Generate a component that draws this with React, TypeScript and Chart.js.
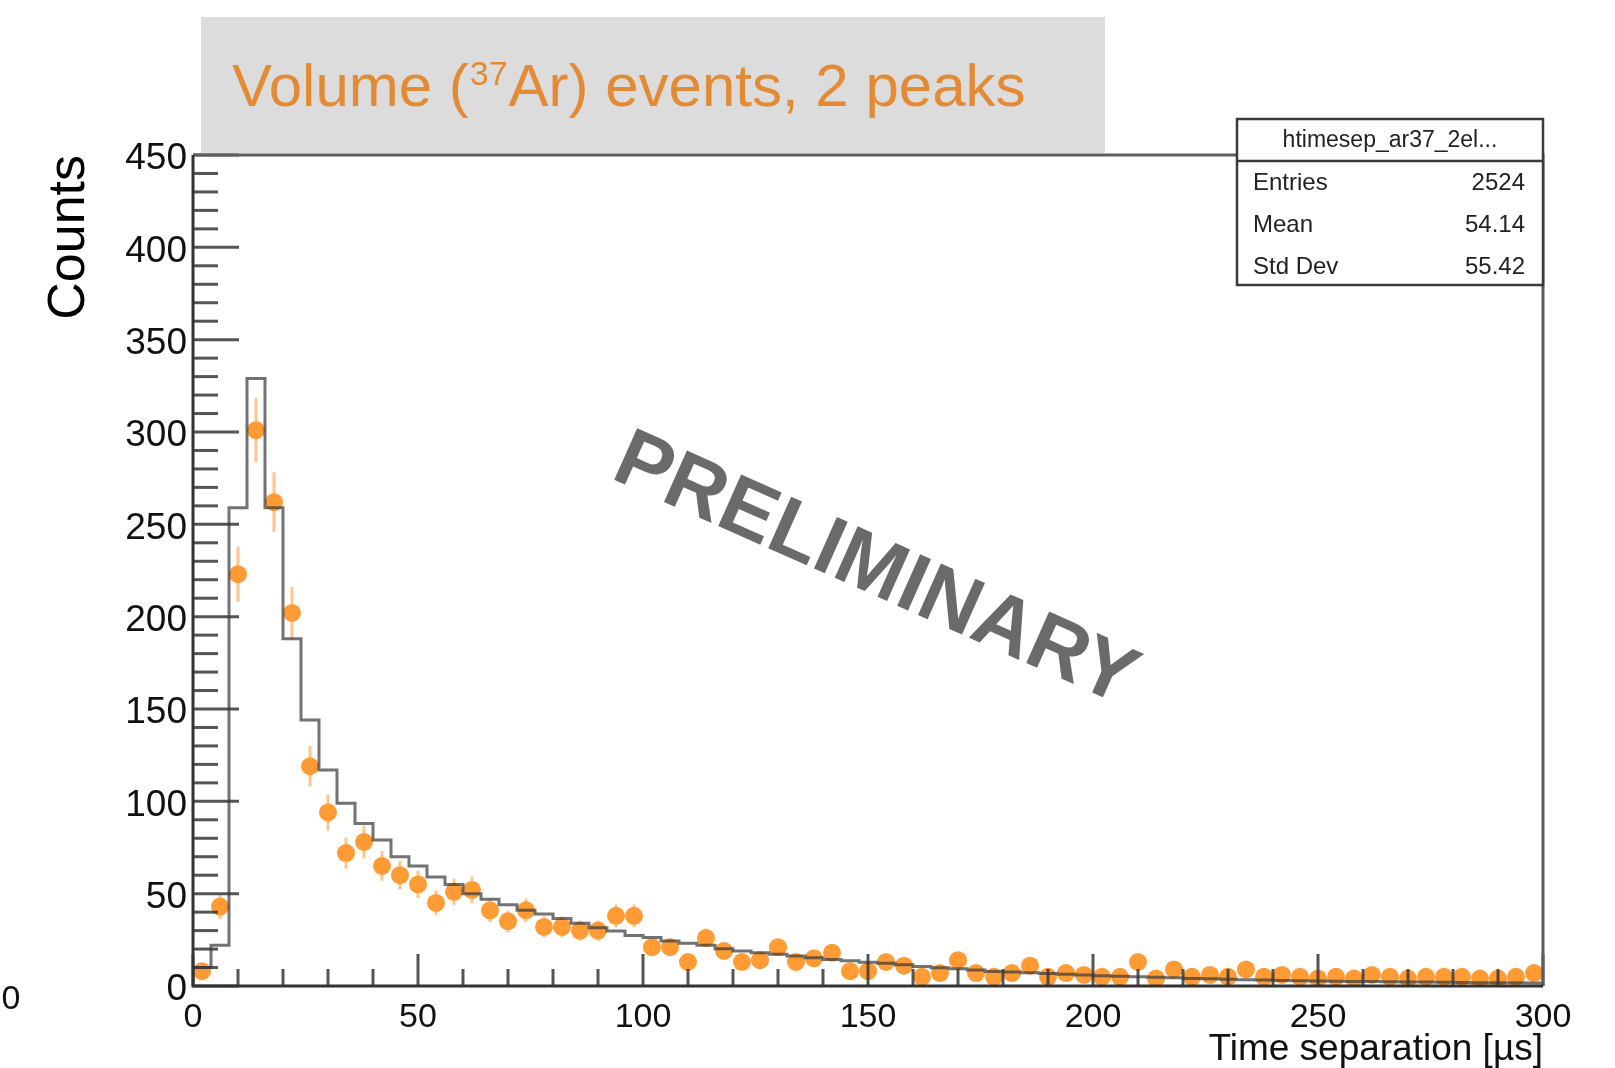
import React, { useEffect, useRef } from "react";
import { Chart, registerables } from "chart.js";

Chart.register(...registerables);

// ---------------- data ----------------
const X_MIN = 0;
const X_MAX = 300;
const BIN_WIDTH = 4;
const Y_MIN = 0;
const Y_MAX = 450;
const X_STEP = 50;
const Y_STEP = 50;

// measured counts (orange points), one per 4 µs bin, 0..300 µs
const dataCounts = [
  8, 43, 223, 301, 262, 202, 119, 94, 72, 78,
  65, 60, 55, 45, 51, 52, 41, 35, 41, 32,
  32, 30, 30, 38, 38, 21, 21, 13, 26, 19,
  13, 14, 21, 13, 15, 18, 8, 8, 13, 11,
  5, 7, 14, 7, 5, 7, 11, 5, 7, 6,
  5, 5, 13, 4, 9, 5, 6, 5, 9, 5,
  6, 5, 4, 5, 4, 6, 5, 4, 5, 5,
  5, 4, 4, 5, 7,
];

// reference histogram (grey step line), one per 4 µs bin
const refCounts = [
  10, 22, 259, 329, 259, 188, 144, 117, 99, 88,
  79, 70, 65, 59, 55, 50, 47, 44, 41, 39,
  36.5, 34, 31.6, 29.8, 27.4, 26.2, 24.4, 23.1, 22, 20.2,
  19, 18, 17.2, 16.2, 15.3, 14.4, 13.7, 12.8, 12.3, 11.5,
  10.5, 9.9, 9.3, 8.7, 7.9, 7.6, 7.2, 6.8, 6.3, 6.0,
  5.6, 5.3, 5.0, 4.7, 4.4, 4.1, 3.9, 3.6, 3.4, 3.2,
  3.0, 2.9, 2.7, 2.6, 2.5, 2.4, 2.3, 2.2, 2.1, 2.0,
  1.9, 1.8, 1.7, 1.7, 1.6,
];

const titleBefore = "Volume (";
const titleSup = "37";
const titleAfter = "Ar) events, 2 peaks";
const xAxisTitle = "Time separation [µs]";
const yAxisTitle = "Counts";
const watermark = "PRELIMINARY";
const statsName = "htimesep_ar37_2el...";
const statsLabels = ["Entries", "Mean", "Std Dev"];
const statsValues = ["2524", "54.14", "55.42"];

// ---------------- styling ----------------
const FONT = "'Liberation Sans', Arial, Helvetica, sans-serif";
const ORANGE = "#FF9B35";
const ERR_COLOR = "rgba(255,150,45,0.55)";
const HIST_COLOR = "rgba(60,60,60,0.72)";
const TITLE_COLOR = "#E38B34";
const W = 1615;
const H = 1068;

const rootPlugin = {
  id: "rootStyle",
  beforeDraw(chart: any) {
    const ctx = chart.ctx;
    ctx.save();
    ctx.fillStyle = "#ffffff";
    ctx.fillRect(0, 0, chart.width, chart.height);
    // title pad
    ctx.fillStyle = "#dcdcdc";
    ctx.fillRect(201, 17, 904, 136);
    ctx.fillStyle = TITLE_COLOR;
    ctx.textBaseline = "alphabetic";
    ctx.textAlign = "left";
    let x = 232;
    const base = 106;
    ctx.font = `60px ${FONT}`;
    ctx.fillText(titleBefore, x, base);
    x += ctx.measureText(titleBefore).width;
    ctx.font = `34px ${FONT}`;
    ctx.fillText(titleSup, x + 1, base - 21);
    x += ctx.measureText(titleSup).width + 2;
    ctx.font = `60px ${FONT}`;
    ctx.fillText(titleAfter, x, base);
    ctx.restore();
  },
  beforeDatasetsDraw(chart: any) {
    const ctx = chart.ctx;
    const xs = chart.scales.x;
    const ys = chart.scales.y;
    ctx.save();
    ctx.strokeStyle = ERR_COLOR;
    ctx.lineWidth = 3;
    dataCounts.forEach((n, i) => {
      const xc = X_MIN + (i + 0.5) * BIN_WIDTH;
      const e = Math.sqrt(n);
      const px = xs.getPixelForValue(xc);
      ctx.beginPath();
      ctx.moveTo(px, ys.getPixelForValue(Math.max(0, n - e)));
      ctx.lineTo(px, ys.getPixelForValue(n + e));
      ctx.stroke();
    });
    ctx.restore();
  },
  afterDatasetsDraw(chart: any) {
    const ctx = chart.ctx;
    const xs = chart.scales.x;
    const ys = chart.scales.y;
    const a = chart.chartArea;
    ctx.save();
    // ticks (inside frame)
    ctx.strokeStyle = "rgba(55,55,55,0.85)";
    ctx.lineWidth = 3;
    for (let v = Y_MIN; v <= Y_MAX; v += 10) {
      const py = ys.getPixelForValue(v);
      const len = v % Y_STEP === 0 ? 46 : 25;
      ctx.beginPath();
      ctx.moveTo(a.left, py);
      ctx.lineTo(a.left + len, py);
      ctx.stroke();
    }
    for (let v = X_MIN; v <= X_MAX; v += 10) {
      const px = xs.getPixelForValue(v);
      const len = v % X_STEP === 0 ? 32 : 17;
      ctx.beginPath();
      ctx.moveTo(px, a.bottom);
      ctx.lineTo(px, a.bottom - len);
      ctx.stroke();
    }
    // frame
    ctx.lineWidth = 3;
    ctx.strokeStyle = "#5e5e5e";
    ctx.beginPath();
    ctx.moveTo(a.left, a.top);
    ctx.lineTo(a.right, a.top);
    ctx.lineTo(a.right, a.bottom);
    ctx.stroke();
    ctx.strokeStyle = "#333333";
    ctx.beginPath();
    ctx.moveTo(a.left, a.top);
    ctx.lineTo(a.left, a.bottom);
    ctx.lineTo(a.right, a.bottom);
    ctx.stroke();
    ctx.restore();
  },
  afterDraw(chart: any) {
    const ctx = chart.ctx;
    ctx.save();
    // watermark
    ctx.translate(875, 571);
    ctx.rotate((24 * Math.PI) / 180);
    ctx.font = `bold 82px ${FONT}`;
    ctx.fillStyle = "#6a6a6a";
    ctx.textAlign = "center";
    ctx.textBaseline = "middle";
    ctx.fillText(watermark, 0, 0);
    ctx.restore();

    // stats box
    ctx.save();
    const bx = 1237, by = 119, bw = 306, bh = 166;
    ctx.fillStyle = "#ffffff";
    ctx.fillRect(bx, by, bw, bh);
    ctx.strokeStyle = "#3a3a3a";
    ctx.lineWidth = 2.5;
    ctx.strokeRect(bx, by, bw, bh);
    ctx.beginPath();
    ctx.moveTo(bx, 161);
    ctx.lineTo(bx + bw, 161);
    ctx.stroke();
    ctx.fillStyle = "#222222";
    ctx.textBaseline = "middle";
    ctx.font = `23px ${FONT}`;
    ctx.textAlign = "center";
    ctx.fillText(statsName, bx + bw / 2, 141);
    ctx.font = `24px ${FONT}`;
    const rows = [183, 225, 267];
    statsLabels.forEach((lab, i) => {
      ctx.textAlign = "left";
      ctx.fillText(lab, 1253, rows[i]);
      ctx.textAlign = "right";
      ctx.fillText(statsValues[i], 1525, rows[i]);
    });
    // stray label at far left
    ctx.font = `34px ${FONT}`;
    ctx.textAlign = "center";
    ctx.fillStyle = "#111111";
    ctx.fillText("0", 11, 1000);
    ctx.restore();
  },
};

export default function App() {
  const ref = useRef<HTMLCanvasElement | null>(null);

  useEffect(() => {
    if (!ref.current) return;
    const histPoints: { x: number; y: number }[] = [{ x: X_MIN, y: 0 }];
    refCounts.forEach((v, i) => histPoints.push({ x: X_MIN + i * BIN_WIDTH, y: v }));
    histPoints.push({ x: X_MAX, y: refCounts[refCounts.length - 1] });
    histPoints.push({ x: X_MAX, y: 0 });
    const dataPoints = dataCounts.map((v, i) => ({ x: X_MIN + (i + 0.5) * BIN_WIDTH, y: v }));

    const chart = new Chart(ref.current, {
      type: "scatter",
      data: {
        datasets: [
          {
            type: "line",
            label: "reference",
            data: histPoints,
            stepped: "before",
            borderColor: HIST_COLOR,
            borderWidth: 3,
            pointRadius: 0,
            fill: false,
          } as any,
          {
            type: "scatter",
            label: "data",
            data: dataPoints,
            pointRadius: 9,
            pointHoverRadius: 9,
            backgroundColor: ORANGE,
            borderWidth: 0,
          } as any,
        ],
      },
      options: {
        responsive: false,
        animation: false,
        devicePixelRatio: 1,
        layout: { padding: { left: 0, right: 72, top: 155, bottom: 0 } },
        plugins: {
          legend: { display: false },
          tooltip: { enabled: false },
          title: { display: false },
        },
        scales: {
          x: {
            type: "linear",
            min: X_MIN,
            max: X_MAX,
            grid: { display: false, drawTicks: false },
            border: { display: false },
            ticks: {
              stepSize: X_STEP,
              font: { size: 34, family: FONT },
              color: "#111111",
              padding: 11,
              maxRotation: 0,
              autoSkip: false,
            },
            title: {
              display: true,
              text: xAxisTitle,
              align: "end",
              color: "#111111",
              font: { size: 37, family: FONT, lineHeight: 1 },
              padding: { top: 0, bottom: 0 },
            },
            afterFit: (s: any) => {
              s.height = 82;
            },
          },
          y: {
            type: "linear",
            min: Y_MIN,
            max: Y_MAX,
            grid: { display: false, drawTicks: false },
            border: { display: false },
            ticks: {
              stepSize: Y_STEP,
              font: { size: 37, family: FONT },
              color: "#111111",
              padding: 6,
              labelOffset: 4,
            },
            title: {
              display: true,
              text: yAxisTitle,
              align: "end",
              color: "#000000",
              font: { size: 52, family: FONT, lineHeight: 1 },
              padding: { top: 44, bottom: 0 },
            },
            afterFit: (s: any) => {
              s.width = 193;
            },
          },
        },
      },
      plugins: [rootPlugin],
    } as any);
    return () => chart.destroy();
  }, []);

  return (
    <div style={{ position: "fixed", left: 0, top: 0, width: W, height: H, background: "#fff" }}>
      <canvas ref={ref} width={W} height={H} style={{ width: W, height: H, display: "block" }} />
    </div>
  );
}
